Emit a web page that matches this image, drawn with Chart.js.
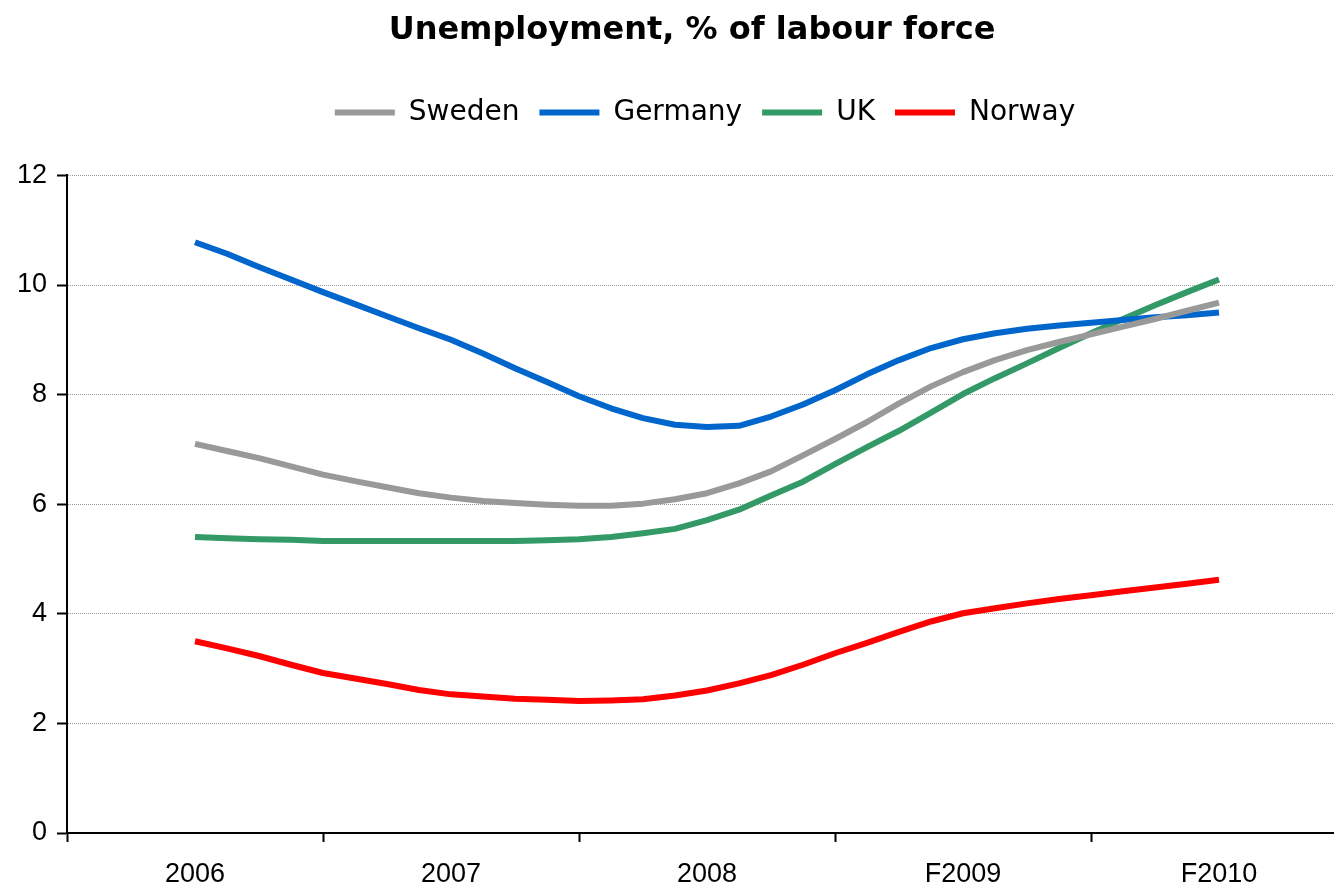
<!DOCTYPE html>
<html>
<head>
<meta charset="utf-8">
<script src="https://cdn.jsdelivr.net/npm/chart.js@4/dist/chart.umd.min.js"></script>
<style>
  html, body { margin: 0; padding: 0; background: #fff; overflow: hidden; }
  #wrap { width: 1384px; height: 886px; }
</style>
</head>
<body>
<div id="wrap"><canvas id="unempChart"></canvas></div>
<script>
// Year categories on the axis
const years = ['2006', '2007', '2008', 'F2009', 'F2010'];

// Values, 8 points per year (from 2006 to F2010)
const sweden = [7.1, 6.97, 6.84, 6.69, 6.54, 6.42, 6.31, 6.2, 6.12, 6.06, 6.02, 5.99, 5.97, 5.97, 6.01, 6.09,
  6.2, 6.38, 6.6, 6.89, 7.19, 7.5, 7.84, 8.15, 8.41, 8.63, 8.81, 8.96, 9.1, 9.24, 9.38, 9.53, 9.68];
const germany = [10.78, 10.57, 10.33, 10.1, 9.87, 9.65, 9.43, 9.21, 9.0, 8.75, 8.48, 8.23, 7.97, 7.75, 7.57, 7.45,
  7.41, 7.43, 7.6, 7.82, 8.08, 8.37, 8.63, 8.85, 9.01, 9.12, 9.2, 9.26, 9.31, 9.36, 9.41, 9.45, 9.5];
const uk = [5.4, 5.38, 5.36, 5.35, 5.33, 5.33, 5.33, 5.33, 5.33, 5.33, 5.33, 5.34, 5.36, 5.4, 5.47, 5.55,
  5.71, 5.9, 6.16, 6.41, 6.73, 7.04, 7.34, 7.67, 8.01, 8.3, 8.57, 8.85, 9.12, 9.38, 9.63, 9.87, 10.1];
const norway = [3.5, 3.37, 3.23, 3.07, 2.92, 2.82, 2.72, 2.61, 2.53, 2.49, 2.45, 2.43, 2.41, 2.42, 2.44, 2.51,
  2.6, 2.73, 2.88, 3.07, 3.28, 3.47, 3.67, 3.86, 4.01, 4.1, 4.19, 4.27, 4.34, 4.41, 4.48, 4.55, 4.62];

const yTicks = [0, 2, 4, 6, 8, 10, 12];
const stepsPerYear = 8;

// turn a series into {x, y} points on the fine x axis
function toPoints(values) {
  return values.map((v, i) => ({ x: i, y: v }));
}

function series(label, values, color) {
  return {
    label: label,
    data: toPoints(values),
    xAxisID: 'xq',
    borderColor: color,
    backgroundColor: color,
    borderWidth: 6,
    pointRadius: 0,
    tension: 0,
    borderJoinStyle: 'round',
    fill: false
  };
}

// extra room under the legend, and nudge it a bit to the right like the original
const legendTweak = {
  id: 'legendTweak',
  beforeInit(chart) {
    const fit = chart.legend.fit;
    chart.legend.fit = function () {
      fit.call(this);
      this.height += 39;
    };
  },
  afterLayout(chart) {
    chart.legend.left += 13;
    chart.legend.right += 13;
  }
};

const ctx = document.getElementById('unempChart').getContext('2d');
const myChart = new Chart(ctx, {
  type: 'line',
  data: {
    datasets: [
      series('Sweden', sweden, '#999999'),
      series('Germany', germany, '#0066CC'),
      series('UK', uk, '#339966'),
      series('Norway', norway, '#FF0000')
    ]
  },
  plugins: [legendTweak],
  options: {
    responsive: true,
    maintainAspectRatio: false,
    animation: false,
    layout: { padding: 0 },
    plugins: {
      tooltip: { enabled: false },
      title: {
        display: true,
        text: 'Unemployment, % of labour force',
        color: '#000',
        font: { family: 'DejaVu Sans', size: 32, weight: 'bold' },
        padding: { top: 11, bottom: 29 }
      },
      legend: {
        position: 'top',
        labels: {
          color: '#000',
          font: { family: 'DejaVu Sans', size: 28 },
          boxWidth: 60,
          boxHeight: 6,
          padding: 20,
          generateLabels: chart =>
            Chart.defaults.plugins.legend.labels.generateLabels(chart).map(l => ({ ...l, lineWidth: 0 }))
        }
      }
    },
    scales: {
      x: {
        type: 'category',
        labels: years,
        offset: true,
        grid: {
          offset: true,
          drawOnChartArea: false,
          tickLength: 9,
          tickColor: '#000',
          tickWidth: 2
        },
        border: { color: '#000', width: 2 },
        ticks: {
          color: '#000',
          padding: 16,
          maxRotation: 0,
          font: { family: 'Liberation Sans', size: 27 }
        },
        afterFit: scale => { scale.height = 53; }
      },
      xq: {
        type: 'linear',
        display: false,
        min: -stepsPerYear / 2,
        max: (years.length - 1) * stepsPerYear + stepsPerYear / 2
      },
      y: {
        min: 0,
        max: 12,
        afterBuildTicks: scale => { scale.ticks = yTicks.map(v => ({ value: v })); },
        grid: {
          color: '#9a9a9a',
          lineWidth: 1,
          tickLength: 10,
          tickColor: '#000',
          tickWidth: 2
        },
        border: { color: '#000', width: 2, dash: [1, 1] },
        ticks: {
          color: '#000',
          padding: 10,
          font: { family: 'Liberation Sans', size: 27 }
        },
        afterFit: scale => { scale.width = 67; }
      },
      // empty right axis, only keeps the plot edge where the original has it
      yr: {
        position: 'right',
        min: 0,
        max: 12,
        grid: { drawOnChartArea: false, drawTicks: false },
        border: { display: false },
        ticks: { display: false },
        afterFit: scale => { scale.width = 37; }
      }
    }
  }
});
</script>
</body>
</html>
